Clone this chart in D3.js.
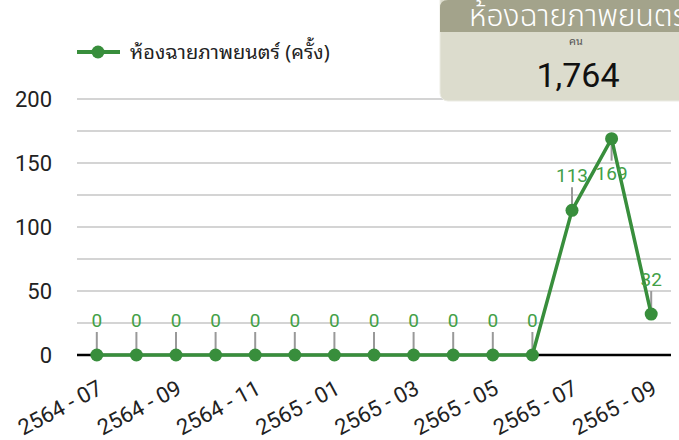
<!DOCTYPE html>
<html>
<head>
<meta charset="utf-8">
<script src="https://cdn.jsdelivr.net/npm/d3@7"></script>
<style>
  html, body { margin: 0; padding: 0; background: #ffffff; }
  svg { display: block; }
  text { font-family: Roboto, "Noto Sans Thai", "Noto Sans", sans-serif; }
  .thai-looped { font-family: "Noto Sans Thai Looped", "Noto Serif Thai", Loma, Garuda, Sarabun, Roboto, sans-serif; }
</style>
</head>
<body>
<svg id="chart" width="679" height="440"></svg>
<script>
// Monthly screening-room usage (times per month)
const months = [
  "2564 - 07", "2564 - 08", "2564 - 09", "2564 - 10", "2564 - 11", "2564 - 12",
  "2565 - 01", "2565 - 02", "2565 - 03", "2565 - 04", "2565 - 05", "2565 - 06",
  "2565 - 07", "2565 - 08", "2565 - 09"
];
const sessions = [0, 0, 0, 0, 0, 0, 0, 0, 0, 0, 0, 0, 113, 169, 32];
const yTicks = [0, 25, 50, 75, 100, 125, 150, 175, 200];
const yLabels = [0, 50, 100, 150, 200];
const xLabelMonths = months.filter((m, i) => i % 2 === 0);

const seriesName = "ห้องฉายภาพยนตร์ (ครั้ง)";
const cardTitle = "ห้องฉายภาพยนตร์";
const cardUnit = "คน";
const cardTotal = 1764;

const svg = d3.select("#chart");
const plotLeft = 77, plotRight = 671;

const x = d3.scalePoint().domain(months).range([plotLeft, plotRight]).padding(0.5);
const y = d3.scaleLinear().domain([0, 200]).range([355, 99]);

const lineGreen = "#388e3c";
const labelGreen = "#43a047";

// Horizontal grid
svg.append("g").selectAll("line").data(yTicks).join("line")
  .attr("x1", plotLeft).attr("x2", plotRight)
  .attr("y1", d => y(d)).attr("y2", d => y(d))
  .attr("stroke", "#d4d4d4").attr("stroke-width", 2);

// Zero baseline
svg.append("line")
  .attr("x1", plotLeft).attr("x2", plotRight)
  .attr("y1", y(0)).attr("y2", y(0))
  .attr("stroke", "#000").attr("stroke-width", 2.5);

// Y axis labels
svg.append("g").selectAll("text").data(yLabels).join("text")
  .attr("x", 52).attr("y", d => y(d))
  .attr("dy", "0.36em")
  .attr("text-anchor", "end")
  .attr("font-size", 22)
  .attr("fill", "#222")
  .text(d => d);

// X axis labels, every other month, slanted
svg.append("g").selectAll("text").data(xLabelMonths).join("text")
  .attr("transform", d => `translate(${x(d) + 7},${393}) rotate(-28)`)
  .attr("text-anchor", "end")
  .attr("font-size", 22)
  .attr("fill", "#222")
  .text(d => d);

const pts = months.map((m, i) => ({ m, v: sessions[i] }));

// Value labels sit above the point, except the peak which drops below
const below = d => d.v === d3.max(sessions);

// Leader lines
svg.append("g").selectAll("line").data(pts).join("line")
  .attr("x1", d => x(d.m)).attr("x2", d => x(d.m))
  .attr("y1", d => y(d.v))
  .attr("y2", d => below(d) ? y(d.v) + 22 : y(d.v) - 23)
  .attr("stroke", "#999").attr("stroke-width", 2);

// Line
svg.append("path").datum(pts)
  .attr("fill", "none")
  .attr("stroke", lineGreen)
  .attr("stroke-width", 3.5)
  .attr("stroke-linejoin", "round")
  .attr("d", d3.line().x(d => x(d.m)).y(d => y(d.v)));

// Points
svg.append("g").selectAll("circle").data(pts).join("circle")
  .attr("cx", d => x(d.m)).attr("cy", d => y(d.v)).attr("r", 6.5)
  .attr("fill", lineGreen);

// Value labels
svg.append("g").selectAll("text").data(pts).join("text")
  .attr("x", d => x(d.m))
  .attr("y", d => below(d) ? y(d.v) + 41 : y(d.v) - 28)
  .attr("text-anchor", "middle")
  .attr("font-size", 19)
  .attr("fill", labelGreen)
  .text(d => d.v);

// Legend
const lg = svg.append("g");
lg.append("line").attr("x1", 77).attr("x2", 120).attr("y1", 52).attr("y2", 52)
  .attr("stroke", lineGreen).attr("stroke-width", 4);
lg.append("circle").attr("cx", 98).attr("cy", 52).attr("r", 6.5).attr("fill", lineGreen);
lg.append("text").attr("class", "thai-looped").attr("x", 130).attr("y", 59)
  .attr("font-size", 20).attr("fill", "#222")
  .text(seriesName);

// Summary card
const card = svg.append("g");
const cx0 = 440, cw = 276, ch = 101, hh = 32, r = 8;
card.append("rect").attr("x", cx0).attr("y", -r).attr("width", cw).attr("height", ch + r)
  .attr("rx", r).attr("fill", "#dcdccd").attr("stroke", "#ececE4").attr("stroke-width", 1);
card.append("path")
  .attr("d", `M${cx0},${hh} V${r} Q${cx0},0 ${cx0 + r},0 H${cx0 + cw} V${hh} Z`)
  .attr("fill", "#a3a38b");
card.append("text").attr("x", 469).attr("y", 26)
  .attr("font-size", 30).attr("font-weight", 300).attr("fill", "#fff")
  .text(cardTitle);
card.append("text").attr("class", "thai-looped").attr("x", 576).attr("y", 45)
  .attr("text-anchor", "middle").attr("font-size", 11).attr("fill", "#555")
  .text(cardUnit);
card.append("text").attr("x", 578).attr("y", 87)
  .attr("text-anchor", "middle").attr("font-size", 34).attr("fill", "#111")
  .attr("font-family", "'Noto Sans', sans-serif")
  .text(d3.format(",")(cardTotal));
</script>
</body>
</html>
